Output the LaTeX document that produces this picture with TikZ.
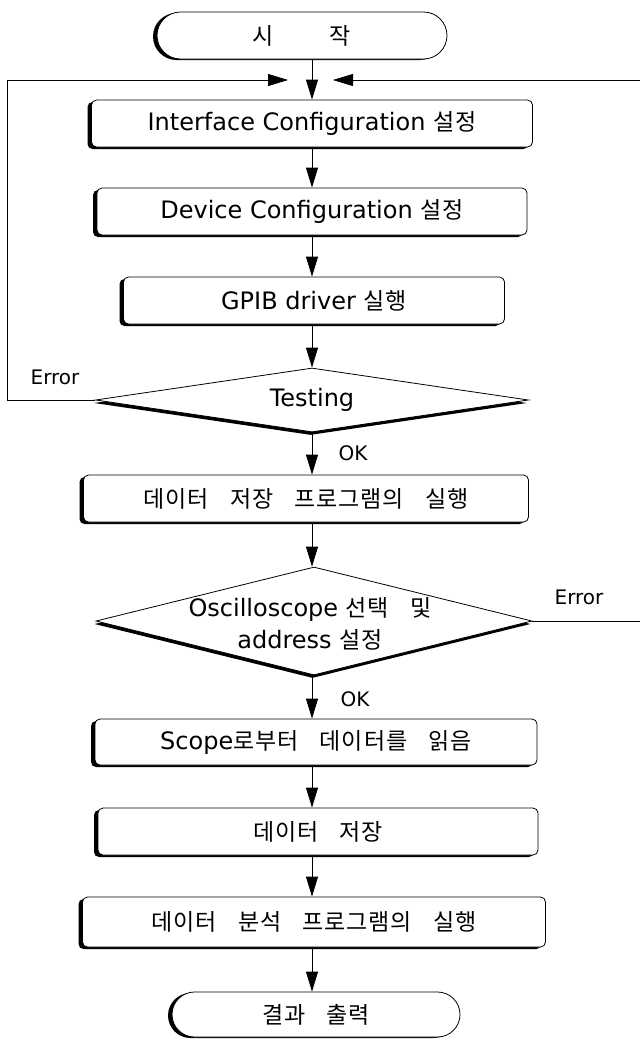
\documentclass[tikz,border=0pt]{standalone}
\usepackage{fontspec}
\setmainfont{DejaVu Sans}
\newfontfamily\krf{Noto Sans CJK KR}[WordSpace=3.5,LetterSpace=4]
\usetikzlibrary{shapes.geometric,shapes.misc,shadows,arrows.meta}
\newcommand\ko[1]{{\krf\fontsize{23}{32}\selectfont #1}}
\tikzset{
  lat/.style={font=\fontsize{24}{32}\selectfont},
  arr/.style={line width=0.8pt,-{Triangle[length=20pt,width=12pt]}},
  stepbox/.style={draw,line width=0.8pt,rounded corners=5pt,fill=white,inner sep=0pt,lat,
    drop shadow={shadow xshift=-4pt,shadow yshift=-2pt,opacity=1,fill=black}},
  term/.style={rounded rectangle,draw,line width=0.8pt,fill=white,inner sep=0pt,lat,
    drop shadow={shadow xshift=-4pt,shadow yshift=-1pt,opacity=1,fill=black}},
  dia/.style={diamond,draw,line width=0.8pt,fill=white,inner sep=0pt,
    drop shadow={shadow xshift=-1.5pt,shadow yshift=-3pt,opacity=1,fill=black}},
  lbl/.style={font=\fontsize{20}{24}\selectfont,inner sep=0pt}
}
\begin{document}
\begin{tikzpicture}[x=1pt,y=-1pt]
\useasboundingbox[fill=white] (0,0) rectangle (640,1042);
% spine and loop coordinates
\coordinate (sp) at (312,0);
\coordinate (lx) at (7,0);
\coordinate (rx) at (643,0);
\coordinate (jl) at (288,80);
\coordinate (jr) at (333,80);
% nodes
\node[term,minimum width=290pt,minimum height=47pt] (start) at (302,35.5) {\ko{시\hspace{56pt}작}};
\node[stepbox,minimum width=441pt,minimum height=47pt] (if) at (312,123.5) {Interface Configuration \ko{설정}};
\node[stepbox,minimum width=430pt,minimum height=47pt] (dev) at (312,211.5) {Device Configuration \ko{설정}};
\node[stepbox,minimum width=381pt,minimum height=47pt] (gpib) at (314,300.5) {GPIB driver \ko{실행}};
\node[dia,minimum width=433pt,minimum height=64pt] (test) at (312,400) {};
\node[lat,inner sep=0pt] (testt) at (test.center) {Testing};
\node[stepbox,minimum width=445pt,minimum height=47pt] (prog) at (306,498.5) {\ko{데이터 저장 프로그램의 실행}};
\node[dia,minimum width=436pt,minimum height=108pt] (osc) at (314,621) {};
\node[lat,inner sep=0pt,align=center] (osct) at (310,624) {Oscilloscope \ko{선택 및}\\address \ko{설정}};
\node[stepbox,minimum width=442pt,minimum height=46pt] (scope) at (316,742) {Scope\ko{로부터 데이터를 읽음}};
\node[stepbox,minimum width=440pt,minimum height=47pt] (save) at (318,831.5) {\ko{데이터 저장}};
\node[stepbox,minimum width=463pt,minimum height=50pt] (anal) at (314,922) {\ko{데이터 분석 프로그램의 실행}};
\node[term,minimum width=288pt,minimum height=45pt] (end) at (316,1014.5) {\ko{결과 출력}};
% labels
\node[lbl] (err1) at (55,377) {Error};
\node[lbl] (ok1) at (353,453) {OK};
\node[lbl] (err2) at (579,597) {Error};
\node[lbl] (ok2) at (355,699) {OK};
% main flow
\draw[arr] (start.south -| sp) -- (if.north -| sp);
\draw[arr] (if.south -| sp) -- (dev.north -| sp);
\draw[arr] (dev.south -| sp) -- (gpib.north -| sp);
\draw[arr] (gpib.south -| sp) -- (test.north -| sp);
\draw[arr] (test.south -| sp) -- (prog.north -| sp);
\draw[arr] (prog.south -| sp) -- (osc.north -| sp);
\draw[arr] (osc.south -| sp) -- (scope.north -| sp);
\draw[arr] (scope.south -| sp) -- (save.north -| sp);
\draw[arr] (save.south -| sp) -- (anal.north -| sp);
\draw[arr] (anal.south -| sp) -- (end.north -| sp);
% error loops
\draw[arr] (test.west) -- (test.west -| lx) -- (lx |- jl) -- (jl);
\draw[arr] (osc.east) -- (osc.east -| rx) -- (rx |- jr) -- (jr);
\end{tikzpicture}
\end{document}
